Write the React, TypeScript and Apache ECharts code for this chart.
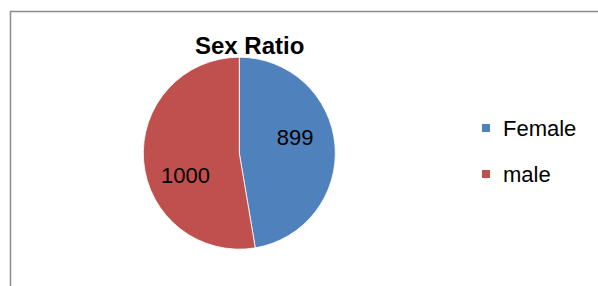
import React, { useEffect, useRef } from "react";
import * as echarts from "echarts";

const categories = ["Female", "male"];
const values = [899, 1000];
const colors = ["#4F81BD", "#C0504D"];
const labelOffsets = [[5, -11], [-3, 18]];

export default function App() {
  const ref = useRef<HTMLDivElement>(null);
  useEffect(() => {
    const chart = echarts.init(ref.current!, null, { renderer: "svg" });
    const font = "'Liberation Sans', Arial, sans-serif";
    chart.setOption({
      animation: false,
      backgroundColor: "#ffffff",
      title: {
        text: "Sex Ratio",
        left: 195,
        top: 33,
        padding: 0,
        textStyle: { fontFamily: font, fontSize: 24, fontWeight: "bold", color: "#000" },
      },
      legend: {
        orient: "vertical",
        left: 482,
        top: 116,
        padding: 0,
        itemWidth: 8,
        itemHeight: 8,
        itemGap: 22,
        icon: "rect",
        data: categories,
        itemStyle: { borderWidth: 0 },
        textStyle: { fontFamily: font, fontSize: 22, color: "#000", lineHeight: 24, padding: [0, 0, 0, 8] },
      },
      graphic: [
        {
          type: "rect",
          shape: { x: 10.5, y: 11.5, width: 800, height: 400 },
          style: { fill: "none", stroke: "#8c8c8c", lineWidth: 1.5 },
          silent: true,
        },
      ],
      series: [
        {
          type: "pie",
          center: [239.3, 153.2],
          radius: 96,
          startAngle: 90,
          clockwise: true,
          label: {
            show: true,
            position: "inside",
            formatter: "{c}",
            fontFamily: font,
            fontSize: 22,
            color: "#000",
          },
          labelLine: { show: false },
          itemStyle: { borderColor: "#ffffff", borderWidth: 0.8 },
          emphasis: { disabled: true },
          data: categories.map((name, i) => ({
            name,
            value: values[i],
            itemStyle: { color: colors[i] },
            label: { offset: labelOffsets[i] },
          })),
        },
      ],
    });
    return () => chart.dispose();
  }, []);
  return (
    <div
      ref={ref}
      style={{ position: "fixed", left: 0, top: 0, width: 598, height: 286 }}
    />
  );
}
